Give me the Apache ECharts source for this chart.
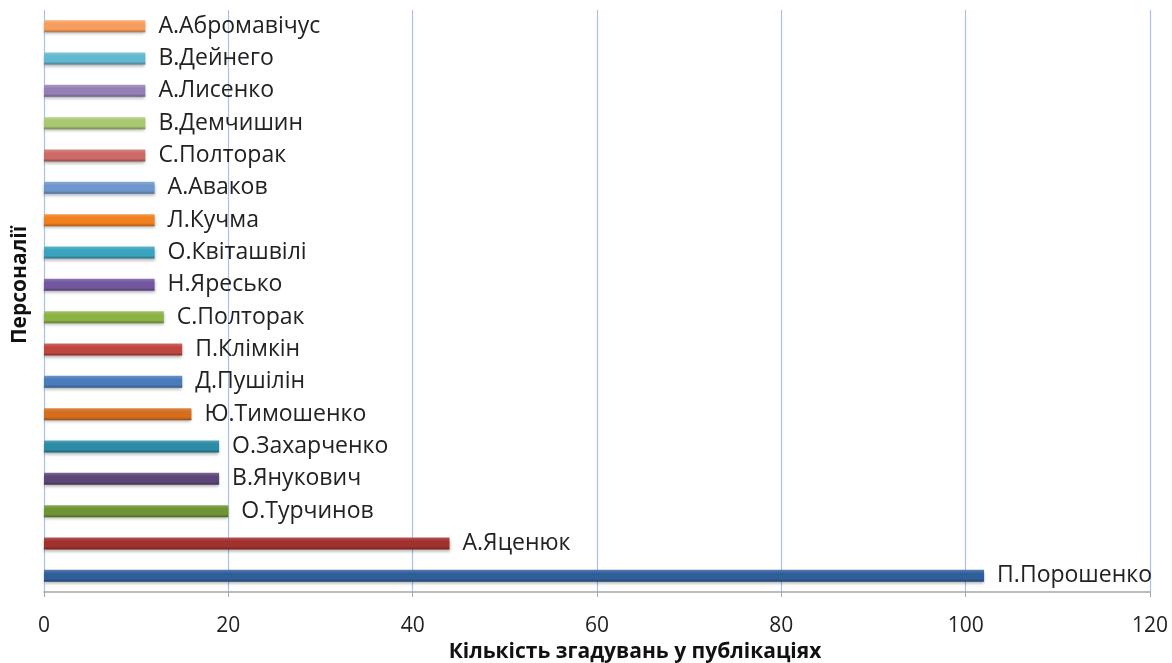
<!DOCTYPE html>
<html><head><meta charset="utf-8">
<script src="https://cdn.jsdelivr.net/npm/echarts@6/dist/echarts.min.js"></script>
<style>html,body{margin:0;padding:0;background:#fff}#c{width:1172px;height:663px}</style>
</head><body><div id="c"></div>
<script>
// bottom to top
var categories = ['П.Порошенко','А.Яценюк','О.Турчинов','В.Янукович','О.Захарченко','Ю.Тимошенко','Д.Пушілін','П.Клімкін','С.Полторак','Н.Яресько','О.Квіташвілі','Л.Кучма','А.Аваков','С.Полторак ','В.Демчишин','А.Лисенко','В.Дейнего','А.Абромавічус'];
var values = [102,44,20,19,19,16,15,15,13,12,12,12,12,11,11,11,11,11];
var xTicks = [0,20,40,60,80,100,120];
var yTitle = 'Персоналії';
var xTitle = 'Кількість згадувань у публікаціях';

var barColors = [
  '#2F5E9A','#A0312E','#6F9433','#5C4679','#2C8BA5','#D56E1E',
  '#4A7BBB','#C0463F','#8CB345','#7356A0','#39A3C0','#F2801F',
  '#6F96CC','#CC6A67','#A8C870','#9580B6','#62B8D0','#F79E5E'
];
function shade(hex, f){
  var n = parseInt(hex.slice(1),16), r=n>>16, g=(n>>8)&255, b=n&255;
  function s(c){ return Math.max(0,Math.min(255,Math.round(f>0 ? c+(255-c)*f : c*(1+f)))); }
  return 'rgb('+s(r)+','+s(g)+','+s(b)+')';
}
var data = values.map(function(v,i){
  var c = barColors[i];
  return {value:v, itemStyle:{color:{type:'linear',x:0,y:0,x2:0,y2:1,colorStops:[
    {offset:0,color:shade(c,0.18)},{offset:0.3,color:c},{offset:0.75,color:c},{offset:1,color:shade(c,-0.3)}]}}};
});
var chart = echarts.init(document.getElementById('c'));
chart.setOption({
  animation:false,
  grid:{left:44,right:22,top:10,bottom:71,containLabel:false,outerBoundsMode:'none'},
  graphic:[{type:'text',x:20,y:285,rotation:Math.PI/2,
    style:{text:yTitle,font:'bold 21px "Open Sans"',fill:'#111',align:'center',verticalAlign:'middle'}}],
  xAxis:{type:'value',min:0,max:120,interval:20,
    axisLine:{show:true,lineStyle:{color:'#A6A6A6',width:1.5}},
    axisTick:{show:true,length:5,lineStyle:{color:'#A6A6A6'}},
    axisLabel:{fontFamily:'Open Sans',fontSize:21,color:'#222',margin:24,formatter:function(v){return xTicks.indexOf(v)>=0?String(v):'';}},
    splitLine:{show:true,lineStyle:{color:'#A9C0EA',width:1.2}},
    name:xTitle,nameLocation:'middle',nameGap:50,
    nameTextStyle:{fontFamily:'Open Sans',fontWeight:'bold',fontSize:21,color:'#111',padding:[0,0,0,76]}
  },
  yAxis:{type:'category',data:categories,
    axisLine:{show:false},axisTick:{show:false},axisLabel:{show:false}
  },
  series:[{type:'bar',data:data,barWidth:12,
    itemStyle:{shadowColor:'rgba(0,0,0,0.3)',shadowBlur:3,shadowOffsetY:2},
    label:{show:true,position:'right',distance:13,fontFamily:'Open Sans',fontSize:23,color:'#222',
      formatter:function(p){return p.name.trim();}}
  }]
});
</script></body></html>
